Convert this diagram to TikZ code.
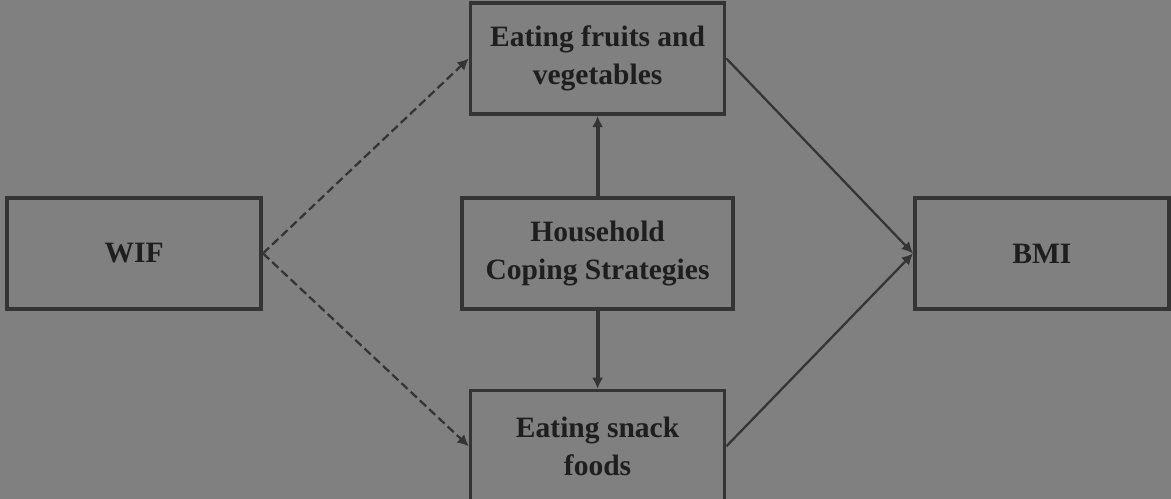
\documentclass[tikz,border=0pt]{standalone}
\usepackage{fontspec}
\setmainfont{Liberation Serif}
\usepackage{tikz}
\usetikzlibrary{arrows.meta, positioning}
\definecolor{bggray}{HTML}{808080}
\definecolor{edgegray}{HTML}{343434}
\definecolor{textgray}{HTML}{1E1E1E}
\tikzset{
    base/.style={draw=edgegray, line width=2.6pt, text=textgray, font=\fontsize{21}{27}\selectfont\bfseries, align=center, inner sep=0pt},
    block/.style={base, rectangle, minimum width=6.35cm, minimum height=2.78cm},
    wideblock/.style={base, rectangle, minimum width=6.78cm, minimum height=2.78cm},
    line/.style={draw=edgegray, line width=3pt, -{Latex[length=8pt, width=8pt]}},
    thin-line/.style={draw=edgegray, line width=1.6pt, -{Latex[length=8pt, width=8pt]}},
    dashed-line/.style={draw=edgegray, line width=1.6pt, dash pattern=on 6pt off 3pt, -{Latex[length=8pt, width=8pt]}}
}

\begin{document}
\begin{tikzpicture}
    \fill [bggray] (0,0) rectangle (29.275,12.475);
    \clip (0,0) rectangle (29.275,12.475);
    \useasboundingbox (0,0) rectangle (29.275,12.475);

    \node [wideblock] (Coping) at (14.94,6.14) {Household\\Coping Strategies};
    \node [block, above=2cm of Coping] (Fruit) {Eating fruits and\\vegetables};
    \node [block, below=1.95cm of Coping] (Snack) {Eating snack\\foods};
    \node [block, left=4.93cm of Coping] (WIF) {WIF};
    \node [block, right=4.45cm of Coping] (BMI) {BMI};

    \draw [line] (Coping) -- (Fruit);
    \draw [line] (Coping) -- (Snack);
    \draw [dashed-line] (WIF.east) -- (Fruit.west);
    \draw [dashed-line] (WIF.east) -- (Snack.west);
    \draw [thin-line] (Fruit.east) -- (BMI.west);
    \draw [thin-line] (Snack.east) -- (BMI.west);
\end{tikzpicture}
\end{document}
